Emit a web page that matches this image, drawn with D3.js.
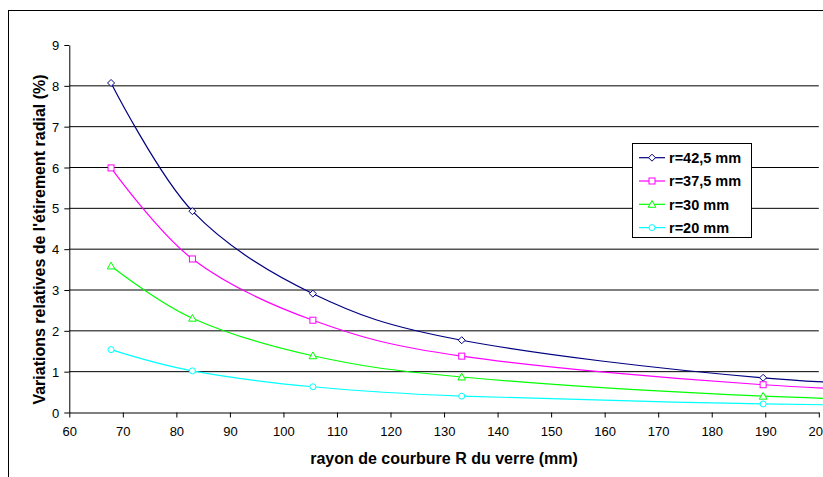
<!DOCTYPE html>
<html><head><meta charset="utf-8">
<script src="https://cdn.jsdelivr.net/npm/d3@7"></script>
<style>
html,body{margin:0;padding:0;background:#fff;}
svg{display:block;font-family:"Liberation Sans",Arial,sans-serif;}
</style></head>
<body>
<svg id="chart" width="823" height="477"></svg>
<script>
// ---- data ----
const radiusR = [67.8, 83.0, 105.5, 133.3, 189.6, 250];
const seriesNames = ["r=42,5 mm", "r=37,5 mm", "r=30 mm", "r=20 mm"];
const values_42_5 = [8.07, 4.93, 2.91, 1.77, 0.85, 0.48];
const values_37_5 = [5.99, 3.76, 2.26, 1.38, 0.68, 0.38];
const values_30   = [3.59, 2.31, 1.39, 0.87, 0.40, 0.22];
const values_20   = [1.54, 1.02, 0.63, 0.40, 0.21, 0.12];
const xTicks = [60,70,80,90,100,110,120,130,140,150,160,170,180,190,200];
const yTicks = [0,1,2,3,4,5,6,7,8,9];
const xTitle = "rayon de courbure R du verre (mm)";
const yTitle = "Variations relatives de l'étirement radial  (%)";

const colors = ["#000080", "#FF00FF", "#00FF00", "#00FFFF"];
const markers = ["diamond", "square", "triangle", "circle"];
const allValues = [values_42_5, values_37_5, values_30, values_20];

const svg = d3.select("#chart");

// outer chart border (extends past the image edges)
svg.append("rect").attr("x", 8.5).attr("y", 10.5).attr("width", 900).attr("height", 600)
  .attr("fill", "#fff").attr("stroke", "#000").attr("stroke-width", 1);

const x = d3.scaleLinear().domain([60, 200]).range([69.3, 818.8]);
const y = d3.scaleLinear().domain([0, 9]).range([412.5, 45]);

// gridlines
svg.append("g").selectAll("line").data(yTicks.filter(d => d > 0 && d < 9)).join("line")
  .attr("x1", x(60)).attr("x2", x(200))
  .attr("y1", d => y(d)).attr("y2", d => y(d))
  .attr("stroke", "#000").attr("stroke-width", 1);

// axes
const xAxis = svg.append("g").attr("transform", `translate(0,${y(0)})`)
  .call(d3.axisBottom(x).tickValues(xTicks).tickSize(5).tickSizeOuter(0).tickFormat(d3.format("d")));
const yAxis = svg.append("g").attr("transform", `translate(${x(60)},0)`)
  .call(d3.axisLeft(y).tickValues(yTicks).tickSize(5).tickSizeOuter(0).tickFormat(d3.format("d")));
[xAxis, yAxis].forEach(a => {
  a.selectAll("path.domain").attr("stroke", "#000");
  a.selectAll(".tick line").attr("stroke", "#000");
  a.selectAll("text").attr("font-size", 13).attr("fill", "#000")
    .attr("font-family", "'Liberation Sans',Arial,sans-serif");
});
xAxis.selectAll("text").attr("dy", null).attr("y", 0).attr("transform", "translate(0,23.5)");
yAxis.selectAll("text").attr("x", -10).attr("dy", "0.35em");

// axis titles
svg.append("text").attr("x", (x(60) + x(200)) / 2).attr("y", 464)
  .attr("text-anchor", "middle").attr("font-weight", "bold").attr("font-size", 16)
  .text(xTitle);
svg.append("text")
  .attr("transform", `translate(45,239.5) rotate(-90)`)
  .attr("text-anchor", "middle").attr("font-weight", "bold").attr("font-size", 16)
  .text(yTitle);

// marker drawing
function drawMarker(g, type, color, cx, cy) {
  if (type === "diamond") {
    g.append("path").attr("d", `M${cx},${cy-3.5}L${cx+3.5},${cy}L${cx},${cy+3.5}L${cx-3.5},${cy}Z`)
      .attr("fill", "#fff").attr("stroke", color).attr("stroke-width", 1);
  } else if (type === "square") {
    g.append("rect").attr("x", cx - 3).attr("y", cy - 3).attr("width", 6).attr("height", 6)
      .attr("fill", "#fff").attr("stroke", color).attr("stroke-width", 1);
  } else if (type === "triangle") {
    g.append("path").attr("d", `M${cx},${cy-3.8}L${cx+3.8},${cy+3}L${cx-3.8},${cy+3}Z`)
      .attr("fill", "#fff").attr("stroke", color).attr("stroke-width", 1);
  } else {
    g.append("circle").attr("cx", cx).attr("cy", cy).attr("r", 3)
      .attr("fill", "#fff").attr("stroke", color).attr("stroke-width", 1);
  }
}

const line = d3.line().curve(d3.curveCardinal.tension(0))
  .x(d => x(d[0])).y(d => y(d[1]));

allValues.forEach((vals, i) => {
  const pts = radiusR.map((r, j) => [r, vals[j]]);
  svg.append("path").datum(pts).attr("d", line)
    .attr("fill", "none").attr("stroke", colors[i]).attr("stroke-width", 1.2);
  const g = svg.append("g");
  pts.forEach(p => drawMarker(g, markers[i], colors[i], x(p[0]), y(p[1])));
});

// legend
const lg = svg.append("g");
lg.append("rect").attr("x", 632.5).attr("y", 143.5).attr("width", 119).attr("height", 94)
  .attr("fill", "#fff").attr("stroke", "#000").attr("stroke-width", 1);
seriesNames.forEach((name, i) => {
  const cy = 157.7 + i * 23.3;
  lg.append("line").attr("x1", 639).attr("x2", 665).attr("y1", cy).attr("y2", cy)
    .attr("stroke", colors[i]).attr("stroke-width", 1.2);
  drawMarker(lg, markers[i], colors[i], 652, cy);
  lg.append("text").attr("x", 669).attr("y", cy).attr("dy", "0.36em")
    .attr("font-size", 14.5).attr("font-weight", "bold").text(name);
});
</script>
</body></html>
